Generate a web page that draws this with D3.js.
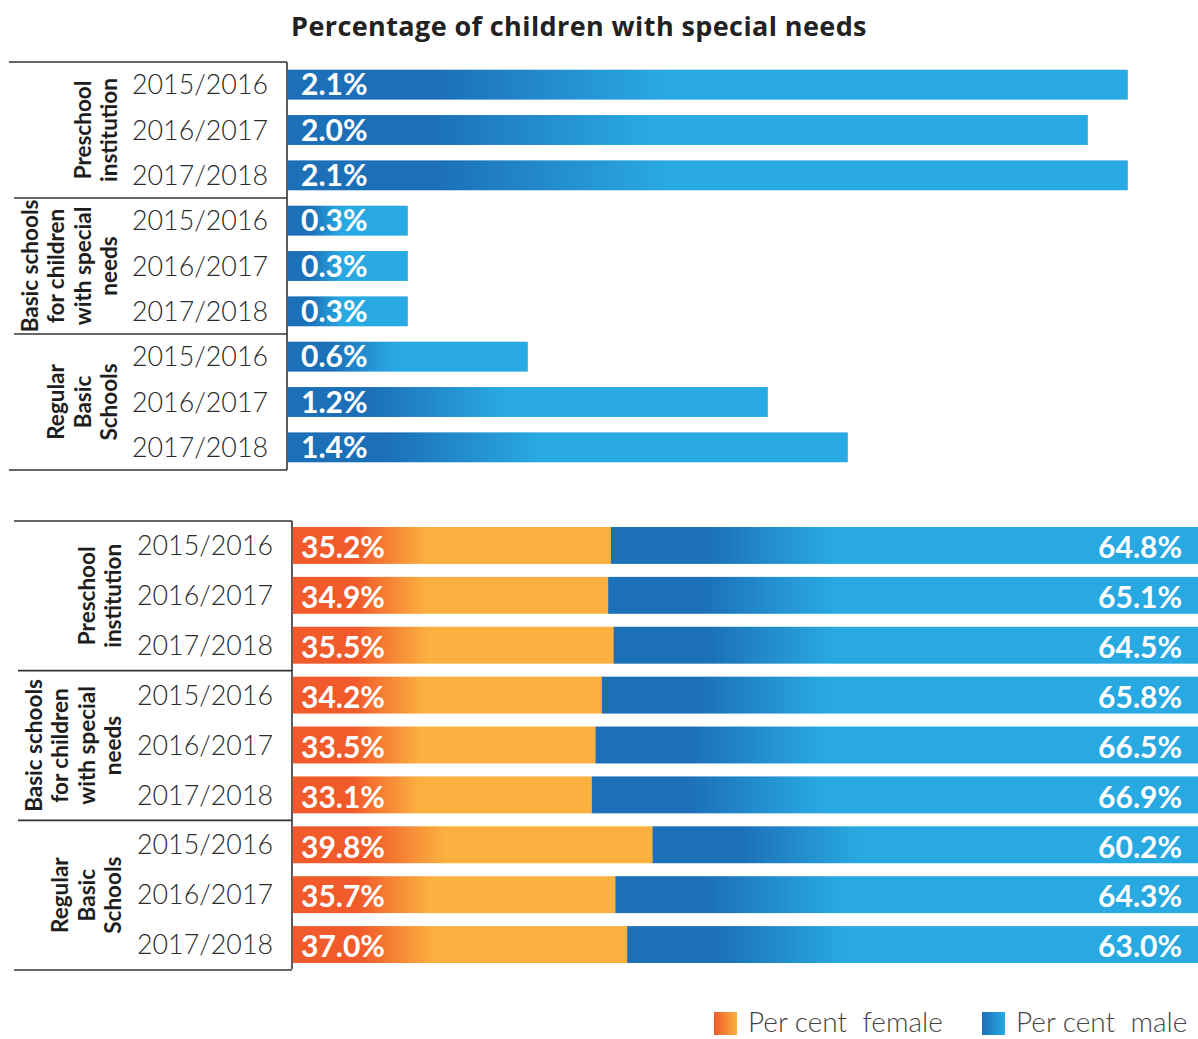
<!DOCTYPE html>
<html>
<head>
<meta charset="utf-8">
<script src="https://cdn.jsdelivr.net/npm/d3@7"></script>
<style>
  html, body { margin: 0; padding: 0; background: #fff; }
  svg { display: block; font-family: Lato, "Noto Sans", sans-serif; }
</style>
</head>
<body>
<svg id="chart" width="1198" height="1039"></svg>
<script>
// School types (each label broken into its drawn lines) and school years
const groupLabels = [
  ["Preschool", "institution"],
  ["Basic schools", "for children", "with special", "needs"],
  ["Regular", "Basic", "Schools"]
];
const years = ["2015/2016", "2016/2017", "2017/2018"];

// Share of children with special needs, per school type and year (%)
const specialNeedsShare = [2.1, 2.0, 2.1, 0.3, 0.3, 0.3, 0.6, 1.2, 1.4];

// Gender split of children with special needs (%)
const percentFemale = [35.2, 34.9, 35.5, 34.2, 33.5, 33.1, 39.8, 35.7, 37.0];
const percentMale   = [64.8, 65.1, 64.5, 65.8, 66.5, 66.9, 60.2, 64.3, 63.0];

const legendLabels = ["Per cent\u00a0 female", "Per cent\u00a0 male"];
const titleText = "Percentage of children with special needs";

const C = {
  darkBlue: "#1c70b8", lightBlue: "#29a9e1",
  red: "#f15a2b", orange: "#fbb040",
  frame: "#333", text: "#2b2b2b"
};

const svg = d3.select("#chart");
const defs = svg.append("defs");

function gradient(id, stops) {
  const g = defs.append("linearGradient").attr("id", id)
    .attr("x1", 0).attr("y1", 0).attr("x2", 1).attr("y2", 0);
  stops.forEach(([o, c]) => g.append("stop").attr("offset", o).attr("stop-color", c));
}
gradient("gBlueTop", [[0.18, C.darkBlue], [0.45, C.lightBlue]]);
gradient("gBlueMale", [[0.16, C.darkBlue], [0.38, C.lightBlue]]);
gradient("gFemale", [[0.2, C.red], [0.42, C.orange]]);
gradient("gLegFemale", [[0, C.red], [1, C.orange]]);
gradient("gLegMale", [[0, C.darkBlue], [1, C.lightBlue]]);

const rows = d3.range(specialNeedsShare.length);

// Title
svg.append("text")
  .attr("x", 579).attr("y", 36)
  .attr("text-anchor", "middle")
  .attr("font-family", "'Open Sans', Lato, sans-serif")
  .attr("font-size", 27).attr("font-weight", 700)
  .attr("letter-spacing", 0.4)
  .attr("fill", "#222")
  .text(titleText);

// Left-side row header: frame, rotated group names and year labels
function drawHeader(g, y, cfg) {
  const [top, bottom] = y.range();
  const gh = 3 * y.step();
  // horizontal rules
  d3.range(4).forEach(k => {
    const yy = top + k * gh;
    const outer = k === 0 || k === 3;
    g.append("line")
      .attr("x1", outer ? cfg.outerLeft : cfg.innerLeft).attr("x2", cfg.axisX)
      .attr("y1", yy).attr("y2", yy)
      .attr("stroke", C.frame).attr("stroke-width", 1.6);
  });
  g.append("line")
    .attr("x1", cfg.axisX).attr("x2", cfg.axisX)
    .attr("y1", top).attr("y2", bottom)
    .attr("stroke", C.frame).attr("stroke-width", 1.6);

  // group names, read bottom-to-top, last line closest to the years
  groupLabels.forEach((lines, gi) => {
    const cy = top + gi * gh + gh / 2;
    lines.forEach((ln, li) => {
      const cx = cfg.lastLineX - (lines.length - 1 - li) * 26.5;
      g.append("text")
        .attr("transform", `translate(${cx},${cy}) rotate(-90)`)
        .attr("text-anchor", "middle")
        .attr("dy", "0.36em")
        .attr("font-size", 22.5).attr("font-weight", 700)
        .attr("fill", "#1e1e1e")
        .text(ln);
    });
  });

  // year labels
  g.selectAll("text.year").data(rows).join("text")
    .attr("class", "year")
    .attr("x", cfg.yearX)
    .attr("y", i => y(i) + y.bandwidth() / 2)
    .attr("dy", "0.36em")
    .attr("text-anchor", "end")
    .attr("font-size", 26.8).attr("font-weight", 300)
    .attr("fill", C.text)
    .text(i => years[i % 3]);
}

// ---- Upper chart: share of children with special needs ----
const yTop = d3.scaleBand().domain(rows).range([62, 470])
  .paddingInner(0.34).paddingOuter(0.17);
const xTop = d3.scaleLinear().domain([0, 2.1]).range([287, 1127]);

const gTop = svg.append("g");
drawHeader(gTop, yTop, { outerLeft: 9, innerLeft: 14, axisX: 287, lastLineX: 109, yearX: 268 });

gTop.selectAll("rect.bar").data(rows).join("rect")
  .attr("class", "bar")
  .attr("x", xTop(0) + 0.8)
  .attr("y", i => yTop(i))
  .attr("width", i => xTop(specialNeedsShare[i]) - xTop(0))
  .attr("height", yTop.bandwidth())
  .attr("fill", "url(#gBlueTop)");

gTop.selectAll("text.val").data(rows).join("text")
  .attr("class", "val")
  .attr("x", xTop(0) + 14)
  .attr("y", i => yTop(i) + yTop.bandwidth() / 2)
  .attr("dy", "0.36em")
  .attr("font-size", 30).attr("font-weight", 700)
  .attr("fill", "#fff")
  .text(i => d3.format(".1f")(specialNeedsShare[i]) + "%");

// ---- Lower chart: gender split ----
const yBot = d3.scaleBand().domain(rows).range([521, 969])
  .paddingInner(0.26).paddingOuter(0.12);
const xBot = d3.scaleLinear().domain([0, 100]).range([292, 1198]);

const gBot = svg.append("g");
drawHeader(gBot, yBot, { outerLeft: 14, innerLeft: 18, axisX: 292, lastLineX: 113, yearX: 273 });

gBot.selectAll("rect.female").data(rows).join("rect")
  .attr("class", "female")
  .attr("x", xBot(0) + 0.8)
  .attr("y", i => yBot(i))
  .attr("width", i => xBot(percentFemale[i]) - xBot(0))
  .attr("height", yBot.bandwidth())
  .attr("fill", "url(#gFemale)");

gBot.selectAll("rect.male").data(rows).join("rect")
  .attr("class", "male")
  .attr("x", i => xBot(percentFemale[i]))
  .attr("y", i => yBot(i))
  .attr("width", i => xBot(percentFemale[i] + percentMale[i]) - xBot(percentFemale[i]))
  .attr("height", yBot.bandwidth())
  .attr("fill", "url(#gBlueMale)");

gBot.selectAll("text.fval").data(rows).join("text")
  .attr("class", "fval")
  .attr("x", xBot(0) + 9)
  .attr("y", i => yBot(i) + yBot.bandwidth() / 2 + 2)
  .attr("dy", "0.36em")
  .attr("font-size", 30).attr("font-weight", 700)
  .attr("fill", "#fff")
  .text(i => d3.format(".1f")(percentFemale[i]) + "%");

gBot.selectAll("text.mval").data(rows).join("text")
  .attr("class", "mval")
  .attr("x", xBot(100) - 16)
  .attr("y", i => yBot(i) + yBot.bandwidth() / 2 + 2)
  .attr("dy", "0.36em")
  .attr("text-anchor", "end")
  .attr("font-size", 30).attr("font-weight", 700)
  .attr("fill", "#fff")
  .text(i => d3.format(".1f")(percentMale[i]) + "%");

// ---- Legend ----
const legend = svg.append("g");
const legendItems = [
  { x: 714, fill: "url(#gLegFemale)", label: legendLabels[0] },
  { x: 982, fill: "url(#gLegMale)", label: legendLabels[1] }
];
legendItems.forEach(it => {
  legend.append("rect")
    .attr("x", it.x).attr("y", 1012).attr("width", 23).attr("height", 23)
    .attr("fill", it.fill);
  legend.append("text")
    .attr("x", it.x + 34).attr("y", 1032)
    .attr("font-size", 28).attr("font-weight", 300)
    .attr("fill", "#444")
    .text(it.label);
});
</script>
</body>
</html>
